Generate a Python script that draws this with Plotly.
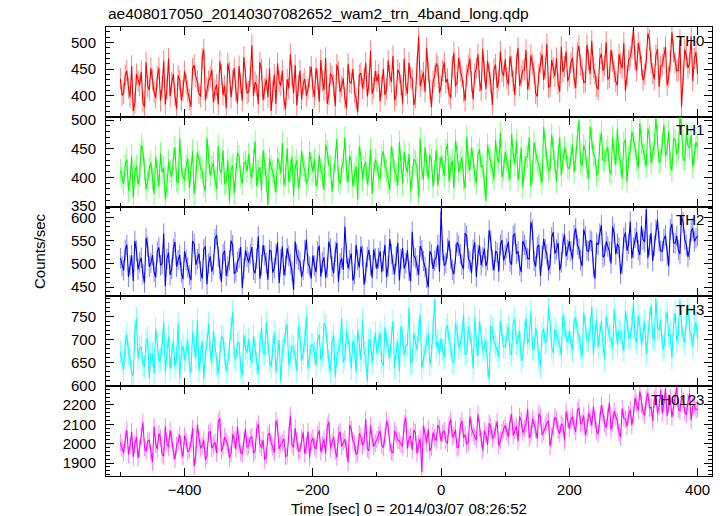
import numpy as np
import plotly.graph_objects as go
from plotly.subplots import make_subplots

# ---- data (rates) ----
# "a" arrays: bins at -500, -495, ..., 400 s ; "b" arrays: bins at -497.5, ..., 397.5 s
time_start = -500
time_step = 5
half_step = 2.5

th0_a = [432, 405, 447, 398, 372, 441, 420, 389, 463, 411, 430, 396, 452, 417, 384, 470, 425, 401, 438, 392,
         446, 409, 380, 458, 427, 399, 487, 415, 436, 388, 421, 465, 402, 377, 444, 429, 410, 456, 391, 433,
         408, 495, 426, 385, 449, 414, 398, 372, 440, 461, 419, 393, 431, 478, 405, 382, 447, 423, 400, 436,
         416, 452, 389, 428, 471, 403, 437, 381, 445, 418, 396, 460, 424, 408, 370, 443, 432, 399, 484, 415,
         427, 390, 451, 412, 438, 475, 401, 443, 386, 420, 462, 433, 397, 511, 429, 408, 446, 379, 437, 455,
         418, 463, 432, 396, 481, 425, 447, 409, 439, 470, 394, 452, 428, 488, 413, 441, 383, 459, 430, 446,
         468, 421, 455, 402, 490, 437, 449, 412, 476, 444, 399, 463, 430, 497, 418, 452, 471, 408, 445, 483,
         437, 472, 415, 494, 450, 426, 468, 503, 441, 412, 479, 456, 431, 486, 445, 420, 461, 499, 438, 474,
         526, 447, 483, 429, 468, 505, 442, 476, 417, 458, 492, 436, 519, 463, 448, 380, 487, 452, 511, 470,
         441]
th0_b = [401, 439, 415, 456, 387, 428, 445, 379, 419, 452, 407, 436, 391, 466, 413, 399, 441, 376, 429, 410,
         423, 394, 451, 436, 405, 470, 392, 428, 449, 411, 384, 440, 419, 461, 397, 452, 386, 424, 473, 405,
         437, 400, 419, 463, 392, 431, 452, 409, 385, 427, 447, 376, 414, 438, 458, 420, 393, 432, 413, 455,
         398, 431, 467, 411, 385, 442, 420, 459, 407, 433, 377, 426, 451, 395, 439, 414, 462, 423, 404, 447,
         441, 418, 402, 466, 426, 392, 449, 421, 470, 404, 435, 383, 456, 418, 444, 490, 412, 427, 461, 406,
         447, 425, 404, 455, 418, 472, 436, 391, 457, 427, 441, 478, 410, 445, 466, 424, 450, 415, 483, 437,
         433, 474, 427, 461, 419, 448, 486, 430, 459, 405, 441, 478, 452, 416, 467, 437, 423, 492, 455, 428,
         462, 433, 481, 458, 425, 496, 441, 453, 418, 470, 447, 501, 435, 465, 427, 478, 452, 410, 467, 489,
         468, 499, 456, 441, 517, 462, 431, 488, 455, 472, 420, 466, 483, 447, 505, 439, 474, 461, 428, 482]

th1_a = [412, 388, 431, 396, 365, 420, 402, 447, 379, 415, 398, 436, 384, 409, 362, 428, 401, 452, 390, 418,
         395, 433, 408, 371, 444, 417, 386, 469, 403, 425, 380, 414, 448, 392, 358, 421, 406, 437, 389, 427,
         441, 399, 463, 411, 377, 426, 352, 418, 395, 434, 407, 386, 451, 413, 368, 430, 401, 422, 389, 445,
         410, 384, 439, 402, 458, 421, 375, 430, 396, 413, 470, 392, 427, 405, 361, 436, 418, 388, 449, 408,
         423, 397, 446, 412, 378, 434, 405, 462, 389, 420, 441, 401, 428, 366, 415, 453, 397, 431, 410, 386,
         437, 402, 459, 418, 381, 444, 426, 398, 471, 412, 433, 390, 449, 421, 359, 438, 409, 466, 425, 400,
         445, 411, 476, 423, 395, 452, 418, 437, 384, 461, 429, 406, 488, 432, 414, 450, 392, 470, 427, 441,
         415, 457, 433, 500, 421, 446, 398, 468, 437, 412, 479, 429, 453, 406, 441, 485, 424, 460, 392, 447,
         468, 430, 495, 451, 419, 472, 443, 504, 426, 459, 437, 481, 412, 465, 448, 490, 429, 456, 474, 440,
         452]
th1_b = [398, 421, 377, 437, 409, 388, 457, 414, 393, 426, 371, 404, 442, 417, 386, 411, 433, 395, 468, 402,
         420, 381, 446, 399, 428, 410, 376, 436, 418, 395, 455, 407, 389, 430, 414, 372, 443, 401, 425, 410,
         407, 429, 384, 418, 448, 397, 433, 410, 374, 425, 460, 403, 392, 436, 418, 381, 447, 412, 397, 424,
         432, 397, 414, 378, 445, 420, 403, 467, 389, 428, 411, 438, 384, 419, 454, 396, 427, 405, 371, 431,
         402, 437, 419, 391, 455, 412, 386, 427, 445, 409, 376, 432, 417, 468, 396, 423, 439, 384, 448, 415,
         421, 447, 393, 430, 464, 409, 435, 381, 426, 452, 404, 440, 418, 386, 457, 429, 397, 435, 478, 413,
         429, 396, 441, 463, 417, 382, 436, 470, 409, 443, 421, 391, 454, 412, 475, 428, 437, 404, 452, 418,
         438, 409, 471, 426, 456, 417, 489, 440, 403, 458, 431, 446, 412, 470, 422, 439, 398, 466, 435, 480,
         452, 417, 461, 438, 486, 425, 457, 470, 431, 492, 448, 422, 469, 441, 505, 433, 476, 451, 419, 462]

th2_a = [512, 486, 541, 497, 463, 528, 503, 478, 556, 494, 519, 471, 535, 500, 452, 524, 489, 547, 508, 481,
         527, 492, 465, 543, 510, 484, 531, 456, 516, 498, 562, 489, 521, 474, 507, 540, 483, 512, 448, 529,
         503, 536, 480, 559, 497, 518, 466, 527, 491, 546, 510, 475, 533, 499, 444, 521, 505, 487, 552, 494,
         518, 482, 539, 503, 470, 548, 495, 526, 461, 512, 580, 490, 522, 478, 508, 537, 455, 515, 497, 531,
         489, 527, 506, 471, 553, 498, 516, 464, 534, 501, 485, 569, 512, 476, 529, 493, 450, 520, 507, 541,
         612, 496, 533, 511, 478, 546, 521, 489, 560, 505, 530, 472, 540, 514, 495, 572, 508, 527, 483, 551,
         519, 547, 498, 565, 527, 482, 541, 512, 590, 506, 535, 474, 553, 520, 499, 568, 531, 486, 544, 516,
         549, 510, 576, 532, 495, 560, 527, 548, 468, 541, 583, 519, 537, 501, 565, 543, 478, 556, 528, 591,
         535, 568, 519, 552, 617, 540, 506, 573, 548, 527, 561, 495, 586, 544, 530, 602, 552, 515, 570, 548,
         560]
th2_b = [495, 530, 472, 518, 549, 488, 513, 460, 537, 502, 482, 526, 497, 565, 511, 476, 532, 494, 519, 467,
         508, 476, 549, 498, 522, 468, 537, 501, 483, 553, 515, 461, 528, 494, 550, 479, 504, 536, 490, 515,
         521, 487, 511, 468, 540, 502, 530, 481, 520, 459, 537, 496, 517, 485, 548, 509, 472, 529, 500, 468,
         496, 527, 473, 514, 492, 533, 480, 545, 501, 487, 522, 508, 464, 541, 492, 517, 481, 530, 470, 512,
         512, 482, 541, 495, 521, 478, 545, 510, 490, 529, 462, 517, 496, 538, 506, 470, 527, 489, 515, 483,
         529, 502, 550, 487, 521, 539, 498, 566, 511, 480, 546, 519, 497, 533, 508, 550, 486, 524, 541, 507,
         534, 505, 561, 521, 497, 549, 530, 510, 573, 494, 541, 517, 532, 486, 557, 522, 545, 503, 563, 530,
         527, 562, 541, 508, 574, 529, 551, 493, 545, 565, 514, 548, 527, 580, 520, 535, 501, 567, 543, 512,
         556, 530, 581, 547, 512, 566, 539, 595, 528, 553, 518, 574, 545, 560, 521, 589, 540, 531, 577, 555]

th3_a = [672, 634, 711, 658, 620, 745, 681, 646, 697, 615, 668, 724, 652, 689, 628, 707, 663, 641, 735, 676,
         655, 698, 627, 684, 742, 661, 613, 690, 672, 718, 645, 666, 703, 631, 679, 760, 657, 694, 622, 681,
         701, 648, 679, 625, 726, 668, 693, 640, 715, 674, 607, 689, 733, 659, 682, 632, 704, 671, 750, 662,
         688, 643, 712, 667, 729, 651, 693, 618, 678, 747, 660, 700, 637, 684, 722, 655, 673, 609, 698, 681,
         669, 715, 642, 696, 658, 741, 677, 630, 705, 686, 769, 652, 691, 720, 638, 680, 712, 664, 787, 695,
         702, 660, 731, 685, 648, 718, 694, 755, 671, 709, 636, 690, 740, 676, 699, 612, 723, 687, 662, 710,
         684, 727, 666, 745, 700, 653, 715, 691, 762, 678, 706, 641, 724, 697, 736, 670, 711, 689, 752, 703,
         719, 676, 748, 705, 663, 731, 698, 772, 710, 684, 740, 657, 722, 701, 765, 689, 716, 675, 738, 707,
         781, 693, 729, 712, 668, 745, 704, 790, 721, 685, 736, 707, 660, 758, 715, 730, 693, 776, 711, 726,
         700]
th3_b = [651, 693, 670, 627, 716, 659, 684, 640, 702, 668, 625, 690, 657, 738, 672, 636, 699, 661, 615, 686,
         680, 643, 717, 659, 631, 696, 673, 735, 650, 686, 624, 707, 669, 648, 723, 661, 691, 637, 710, 671,
         664, 708, 649, 690, 670, 738, 655, 682, 628, 699, 676, 718, 645, 686, 662, 729, 653, 697, 636, 688,
         670, 702, 655, 736, 683, 631, 709, 664, 690, 650, 717, 676, 697, 628, 688, 742, 662, 699, 649, 715,
         693, 651, 727, 681, 704, 638, 695, 730, 666, 688, 648, 713, 677, 754, 661, 697, 645, 724, 683, 668,
         676, 722, 698, 653, 737, 681, 706, 667, 727, 690, 748, 664, 711, 684, 643, 729, 695, 677, 741, 684,
         709, 672, 735, 690, 718, 664, 747, 703, 681, 726, 657, 713, 692, 770, 684, 722, 699, 665, 731, 694,
         693, 738, 716, 681, 759, 699, 723, 668, 744, 711, 690, 751, 706, 680, 733, 719, 694, 762, 702, 727,
         704, 752, 688, 740, 717, 774, 699, 726, 743, 678, 761, 712, 731, 696, 785, 705, 746, 722, 684, 738]

th0123_a = [2005, 1952, 2071, 1988, 1931, 2034, 1976, 2110, 1960, 2018, 1905, 1997, 2052, 1944, 2089, 1983, 2026, 1920, 2008, 1969,
            2041, 1958, 2003, 1884, 2097, 1977, 2020, 1939, 2065, 1994, 1951, 2130, 1985, 2012, 1927, 2048, 1972, 2001, 1946, 2078,
            1990, 2036, 1963, 2101, 1978, 1916, 2044, 2005, 1954, 2087, 1997, 2025, 1938, 2145, 1981, 2013, 1966, 2059, 1992, 1929,
            2030, 1971, 2069, 1995, 1948, 2112, 2008, 1962, 2047, 1985, 2023, 1903, 2074, 1999, 1957, 2038, 2011, 1975, 2093, 1986,
            2021, 2066, 1979, 2118, 2004, 1953, 2049, 2013, 1987, 2135, 2028, 1968, 2057, 2000, 1853, 2041, 2075, 1982, 2032, 2096,
            2012, 2068, 2001, 2125, 2043, 1978, 2091, 2030, 1996, 2140, 2054, 2019, 2083, 1965, 2047, 2106, 2027, 2071, 1989, 2058,
            2094, 2035, 2152, 2067, 2013, 2118, 2079, 2180, 2046, 2099, 2024, 2137, 2062, 2108, 1986, 2085, 2123, 2051, 2094, 2165,
            2077, 2139, 2061, 2186, 2112, 2043, 2158, 2095, 2121, 2050, 2199, 2103, 2141, 2072, 2168, 2115, 2034, 2132, 2090, 2176,
            2148, 2210, 2271, 2165, 2231, 2183, 2119, 2250, 2192, 2156, 2288, 2204, 2137, 2226, 2178, 2245, 2163, 2214, 2121, 2197,
            2180]
th0123_b = [1978, 2023, 1944, 2061, 1996, 1925, 2040, 1981, 2012, 1950, 2088, 1971, 2029, 1936, 2003, 2068, 1958, 1991, 2047, 1933,
            2012, 1967, 2079, 1942, 2030, 1989, 1916, 2054, 1976, 2007, 2112, 1962, 2035, 1995, 1948, 2021, 2090, 1957, 2014, 1983,
            2028, 1951, 2073, 1996, 2018, 1940, 2056, 1982, 2119, 1973, 2007, 1934, 2042, 1993, 2081, 1959, 2025, 1947, 2063, 2010,
            1985, 2045, 1957, 2022, 2088, 1976, 2034, 1929, 2061, 2009, 1970, 2097, 2016, 1944, 2052, 1991, 2126, 1963, 2029, 2003,
            2044, 1992, 2031, 2087, 1958, 2065, 2018, 1996, 2102, 1975, 2039, 2071, 1949, 2026, 2093, 2004, 1962, 2058, 2015, 2079,
            2055, 2013, 2097, 2034, 2072, 1986, 2118, 2046, 2009, 2081, 2037, 2152, 2024, 2066, 1993, 2089, 2040, 2115, 2018, 2074,
            2061, 2112, 2043, 2089, 2141, 2056, 2102, 2029, 2127, 2074, 2155, 2046, 2091, 2118, 2037, 2138, 2069, 2103, 2015, 2128,
            2124, 2088, 2170, 2101, 2145, 2079, 2133, 2191, 2066, 2117, 2156, 2083, 2212, 2108, 2139, 2056, 2181, 2126, 2150, 2095,
            2236, 2172, 2203, 2146, 2262, 2190, 2229, 2158, 2274, 2207, 2143, 2238, 2185, 2296, 2168, 2222, 2151, 2259, 2194, 2175]

panel_names = ["TH0", "TH1", "TH2", "TH3", "TH0123"]
panel_a = [th0_a, th1_a, th2_a, th3_a, th0123_a]
panel_b = [th0_b, th1_b, th2_b, th3_b, th0123_b]
panel_errors = [20, 20, 22, 26, 45]
y_ranges = [[361, 529], [349, 506], [430, 623], [598, 794], [1833, 2297]]
y_dticks = [50, 50, 50, 50, 100]
y_minor = [10, 10, 10, 10, 20]
line_colors = ["#ff0000", "#00ff00", "#0000ff", "#00ffff", "#ff00ff"]
err_colors = ["rgba(255,0,0,0.5)", "rgba(0,255,0,0.5)", "rgba(0,0,255,0.5)",
              "rgba(0,255,255,0.5)", "rgba(255,0,255,0.5)"]

title_text = "ae408017050_20140307082652_wam2_trn_4band_long.qdp"
x_title = "Time [sec] 0 = 2014/03/07 08:26:52"
y_title = "Counts/sec"

FONT = "Liberation Sans, Arial, Helvetica, sans-serif"

fig = make_subplots(rows=5, cols=1, shared_xaxes=True, vertical_spacing=0)

for i, name in enumerate(panel_names):
    va = np.asarray(panel_a[i], dtype=float)
    vb = np.asarray(panel_b[i], dtype=float)
    ta = time_start + time_step * np.arange(len(va))
    tb = time_start + half_step + time_step * np.arange(len(vb))
    t = np.concatenate([ta, tb])
    v = np.concatenate([va, vb])
    order = np.argsort(t, kind="stable")
    fig.add_trace(go.Scatter(
        x=t[order], y=v[order], mode="lines",
        line=dict(color=line_colors[i], width=1.1),
        error_y=dict(type="constant", value=panel_errors[i], color=err_colors[i],
                     thickness=1, width=0),
        showlegend=False, hoverinfo="skip"), row=i + 1, col=1)

    fig.update_yaxes(range=y_ranges[i], dtick=y_dticks[i], tick0=0,
                     ticks="inside", ticklen=8, tickwidth=1, tickcolor="black",
                     minor=dict(ticks="inside", ticklen=4, dtick=y_minor[i], tick0=0,
                                tickcolor="black", showgrid=False),
                     showline=True, linecolor="black", linewidth=1, mirror="allticks",
                     showgrid=False, zeroline=False,
                     tickfont=dict(family=FONT, size=15, color="black"),
                     ticklabelstandoff=6,
                     row=i + 1, col=1)
    fig.update_xaxes(range=[-522.5, 422.5], dtick=200, tick0=0,
                     ticks="inside", ticklen=8, tickwidth=1, tickcolor="black",
                     minor=dict(ticks="inside", ticklen=4, dtick=100, tick0=0,
                                tickcolor="black", showgrid=False),
                     showline=True, linecolor="black", linewidth=1, mirror="allticks",
                     showgrid=False, zeroline=False,
                     tickfont=dict(family=FONT, size=15, color="black"),
                     row=i + 1, col=1)
    ax = "" if i == 0 else str(i + 1)
    fig.add_annotation(text=name, xref=f"x{ax} domain", yref=f"y{ax} domain",
                       x=0.99, y=0.97, xanchor="right", yanchor="top", showarrow=False,
                       font=dict(family=FONT, size=15, color="black"))

fig.add_annotation(text=title_text, xref="paper", yref="paper", x=0.0, y=1.0,
                   xanchor="left", yanchor="bottom", yshift=3, showarrow=False,
                   font=dict(family=FONT, size=15.5, color="black"))
fig.add_annotation(text=x_title, xref="paper", yref="paper", x=0.5, y=0,
                   xanchor="center", yanchor="top", yshift=-22, showarrow=False,
                   font=dict(family=FONT, size=15, color="black"))
fig.add_annotation(text=y_title, xref="paper", yref="paper", x=0, y=0.5,
                   xanchor="right", yanchor="middle", xshift=-56, textangle=-90,
                   showarrow=False, font=dict(family=FONT, size=15, color="black"))

fig.update_layout(width=723, height=516,
                  margin=dict(l=106, r=11, t=27, b=40),
                  paper_bgcolor="white", plot_bgcolor="white")

fig.write_html("out.html", config={"displayModeBar": False},
               post_script="document.body.style.margin='0px';")
